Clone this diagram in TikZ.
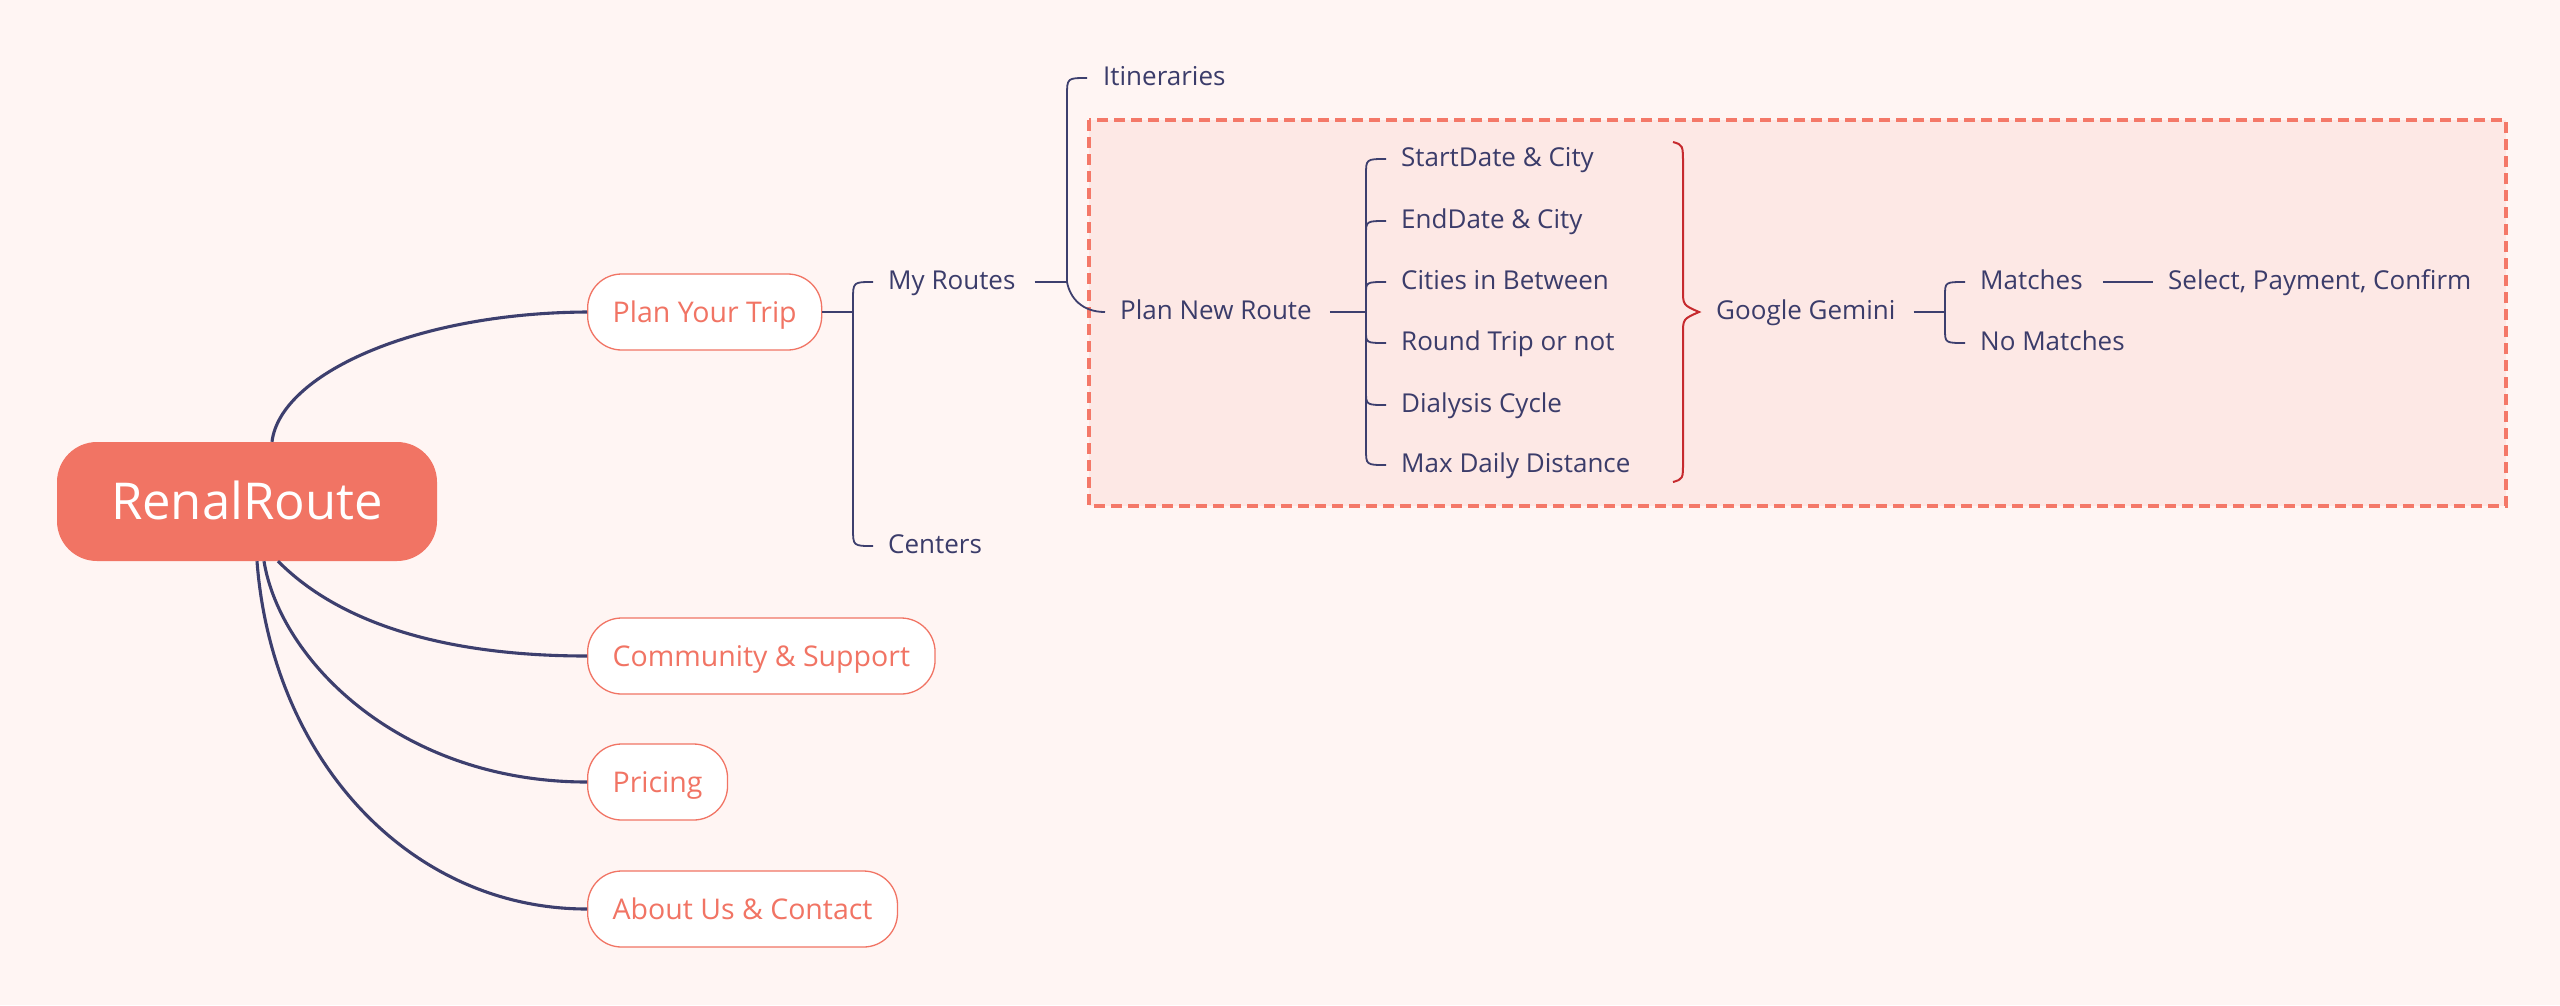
\documentclass[tikz,border=0pt]{standalone}
\usepackage{fontspec}
\setmainfont{Open Sans}
\usetikzlibrary{calc}
\definecolor{bg}{HTML}{FFF5F3}
\definecolor{coral}{HTML}{F17464}
\definecolor{dashcoral}{HTML}{F47868}
\definecolor{navy}{HTML}{3D3F6E}
\definecolor{navytext}{HTML}{3B3C6A}
\definecolor{boxfill}{HTML}{FDE8E5}
\definecolor{bracered}{HTML}{C62A2E}
\begin{document}
\begin{tikzpicture}[x=1pt,y=-1pt,
  rootbox/.style={fill=coral, rounded corners=40pt, minimum width=380pt, minimum height=119pt,
    text=white, font=\fontsize{50.8}{60}\selectfont, text height=36.3pt, text depth=0pt, inner sep=0pt},
  branchbox/.style={draw=coral, line width=1.3pt, fill=white, rounded corners=34pt, minimum height=76pt,
    inner xsep=25pt, inner ysep=0pt, text=coral, font=\fontsize{28.5}{34}\selectfont,
    text height=20.3pt, text depth=0pt, anchor=west},
  leaf/.style={text=navytext, font=\fontsize{26}{31}\selectfont, inner sep=0pt,
    text height=18.6pt, text depth=4pt, anchor=west},
  trunk/.style={draw=navy, line width=3.1pt},
  stem/.style={draw=navy, line width=2.6pt},
  brc/.style={draw=navy, line width=1.8pt},
  thinlink/.style={draw=navy, line width=1.6pt},
  redbrace/.style={draw=bracered, line width=2pt},
  dashbox/.style={draw=dashcoral, fill=boxfill, line width=3.5pt, dash pattern=on 11pt off 6pt}
]
\fill[bg] (0,0) rectangle (2560,1005);
\useasboundingbox (0,0) rectangle (2560,1005);

% group frame
\draw[dashbox] (1089,120) rectangle (2506,506);

% nodes
\node[rootbox] (root) at (247,501.5) {RenalRoute};
\node[branchbox] (trip) at (587,312) {Plan Your Trip};
\node[branchbox] (comm) at (587,656) {Community \& Support};
\node[branchbox] (price) at (587,782) {Pricing};
\node[branchbox] (about) at (587,909) {About Us \& Contact};

\node[leaf] (mr) at (888,282) {My Routes};
\node[leaf] (centers) at (888,546) {Centers};
\node[leaf] (itin) at (1103,78) {Itineraries};
\node[leaf] (pnr) at (1120,312) {Plan New Route};
\node[leaf] (sd) at (1401,159) {StartDate \& City};
\node[leaf] (ed) at (1401,221) {EndDate \& City};
\node[leaf] (cib) at (1401,282) {Cities in Between};
\node[leaf] (rt) at (1401,343) {Round Trip or not};
\node[leaf] (dc) at (1401,405) {Dialysis Cycle};
\node[leaf] (mdd) at (1401,465) {Max Daily Distance};
\node[leaf] (gg) at (1716,312) {Google Gemini};
\node[leaf] (match) at (1980,282) {Matches};
\node[leaf] (nomatch) at (1980,343) {No Matches};
\node[leaf] (spc) at (2168,282) {Select, Payment, Confirm};

% root connectors
\draw[trunk] ([xshift=25pt]root.north) .. controls (280,375) and (413,313) .. (trip.west);
\draw[trunk] ([xshift=31pt]root.south) .. controls (308,591) and (386,656) .. (comm.west);
\draw[trunk] ([xshift=17pt]root.south) .. controls (280,660) and (400,782) .. (price.west);
\draw[trunk] ([xshift=10pt]root.south) .. controls (272,760) and (410,909) .. (about.west);

% Plan Your Trip -> My Routes / Centers
\coordinate (j1) at (853,312);
\draw[stem] (trip.east) -- (j1);
\draw[brc] ([xshift=-15pt]mr.west) .. controls (j1 |- mr.west) .. ($(j1 |- mr.west)+(0,18)$)
  -- ($(j1 |- centers.west)+(0,-18)$) .. controls (j1 |- centers.west) .. ([xshift=-15pt]centers.west);

% My Routes -> Itineraries / Plan New Route
\coordinate (j2) at (1067,282);
\draw[stem] ([xshift=19pt]mr.east) -- (j2);
\draw[brc] ([xshift=-16pt]itin.west) .. controls (j2 |- itin.west) .. ($(j2 |- itin.west)+(0,18)$)
  -- (j2) .. controls (1070,298) and (1082,312) .. ([xshift=-15pt]pnr.west);

% Plan New Route -> parameters
\coordinate (j3) at (1366,312);
\draw[stem] ([xshift=18pt]pnr.east) -- (j3);
\draw[brc] ([xshift=-15pt]sd.west) .. controls (j3 |- sd.west) .. ($(j3 |- sd.west)+(0,16)$)
  -- ($(j3 |- mdd.west)+(0,-16)$) .. controls (j3 |- mdd.west) .. ([xshift=-15pt]mdd.west);
\draw[brc] ($(j3 |- ed.west)+(0,14)$) .. controls (j3 |- ed.west) .. ([xshift=-15pt]ed.west);
\draw[brc] ($(j3 |- cib.west)+(0,12)$) .. controls (j3 |- cib.west) .. ([xshift=-15pt]cib.west);
\draw[brc] ($(j3 |- rt.west)+(0,-12)$) .. controls (j3 |- rt.west) .. ([xshift=-15pt]rt.west);
\draw[brc] ($(j3 |- dc.west)+(0,-14)$) .. controls (j3 |- dc.west) .. ([xshift=-15pt]dc.west);

% red brace to Google Gemini
\coordinate (rb) at ([xshift=-17pt]gg.west);
\draw[redbrace] ($(rb)+(-26,-170)$) .. controls ($(rb)+(-16,-167)$) .. ($(rb)+(-16,-147)$)
  -- ($(rb)+(-16,-22)$) .. controls ($(rb)+(-16,-7)$) .. (rb)
  .. controls ($(rb)+(-16,7)$) .. ($(rb)+(-16,22)$)
  -- ($(rb)+(-16,150)$) .. controls ($(rb)+(-16,167)$) .. ($(rb)+(-26,170)$);

% Google Gemini -> Matches / No Matches
\coordinate (j4) at (1945,312);
\draw[stem] ([xshift=18pt]gg.east) -- (j4);
\draw[brc] ([xshift=-15pt]match.west) .. controls (j4 |- match.west) .. ($(j4 |- match.west)+(0,14)$)
  -- ($(j4 |- nomatch.west)+(0,-14)$) .. controls (j4 |- nomatch.west) .. ([xshift=-15pt]nomatch.west);

% Matches -> Select, Payment, Confirm
\draw[thinlink] ([xshift=20pt]match.east) -- ([xshift=-15pt]spc.west);
\end{tikzpicture}
\end{document}
